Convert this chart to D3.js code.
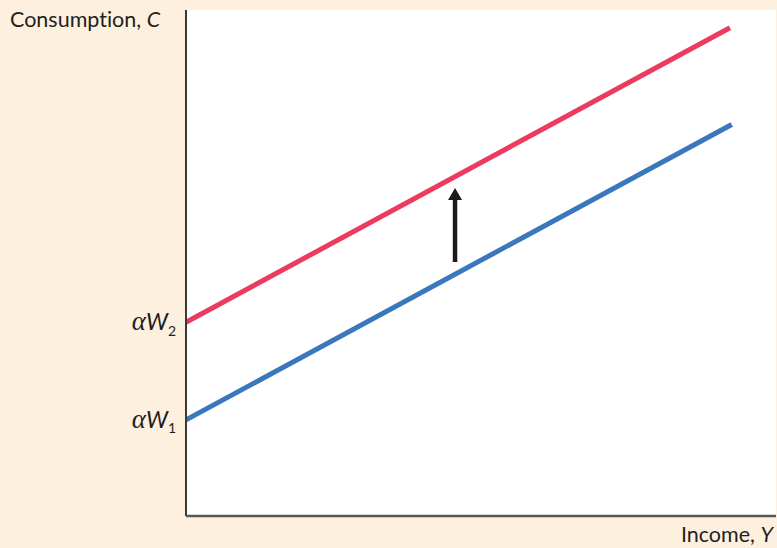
<!DOCTYPE html>
<html>
<head>
<meta charset="utf-8">
<title>Consumption and wealth</title>
<script src="https://d3js.org/d3.v7.min.js"></script>
<style>
  body { margin: 0; background: #fdf0df; }
  svg text { font-family: "Lato", "Open Sans", sans-serif; fill: #231f20; font-variant-ligatures: none; }
</style>
</head>
<body>
<div id="chart"></div>
<script>
// consumption function C = alpha*W + beta*Y, two wealth levels
const intercepts = [19.0, 38.3];          // alpha*W1, alpha*W2
const interceptLabels = ["1", "2"];
const slope = 0.631;
const incomeEnd = [92.5, 92.2];           // where each line stops
const lineColors = ["#3a77bd", "#ec3b5e"];
const arrowX = 45.6, arrowFrom = 50.2, arrowTo = 64.8;

const W = 777, H = 548;
const margin = {top: 10, right: 1, bottom: 32, left: 186};
const width = W - margin.left - margin.right;
const height = H - margin.top - margin.bottom;

const svg = d3.select("#chart").append("svg")
    .attr("width", W).attr("height", H);

svg.append("rect").attr("width", W).attr("height", H).attr("fill", "#fdf0df");

const g = svg.append("g").attr("transform", `translate(${margin.left},${margin.top})`);

g.append("rect").attr("width", width).attr("height", height).attr("fill", "#fff");

const x = d3.scaleLinear().domain([0, 100]).range([0, width]);
const y = d3.scaleLinear().domain([0, 100]).range([height, 0]);

// lines
const line = d3.line().x(d => x(d[0])).y(d => y(d[1]));
intercepts.forEach((a, i) => {
  g.append("path")
    .datum([[0, a], [incomeEnd[i], a + slope * incomeEnd[i]]])
    .attr("d", line)
    .attr("fill", "none")
    .attr("stroke", lineColors[i])
    .attr("stroke-width", 5);
});

// arrow
const ax = x(arrowX), tip = y(arrowTo);
g.append("line")
  .attr("x1", ax).attr("x2", ax)
  .attr("y1", y(arrowFrom)).attr("y2", tip + 10)
  .attr("stroke", "#1c1a1a").attr("stroke-width", 4.5);
g.append("path")
  .attr("d", `M${ax},${tip} L${ax + 7},${tip + 12} L${ax - 7},${tip + 12} Z`)
  .attr("fill", "#1c1a1a");

// axes
const yAxis = g.append("g")
  .call(d3.axisLeft(y).tickValues(intercepts).tickSize(0).tickFormat(""));
yAxis.select(".domain").attr("stroke", "#3b3838").attr("stroke-width", 2).attr("d", `M0,0V${height}`);
yAxis.selectAll(".tick").each(function(d, i) {
  const t = d3.select(this).append("text")
    .attr("x", -10).attr("dy", "0.33em")
    .attr("text-anchor", "end")
    .style("font-size", "23px").style("font-style", "italic");
  t.append("tspan").style("font-family", "'Liberation Serif', serif").style("font-size", "27px").text("α");
  t.append("tspan").text("W");
  t.append("tspan").attr("dy", "0.38em").style("font-size", "14px").style("font-style", "normal").text(interceptLabels[i]);
});

const xAxis = g.append("g").attr("transform", `translate(0,${height})`)
  .call(d3.axisBottom(x).tickValues([]).tickSize(0));
xAxis.select(".domain").attr("stroke", "#5a5656").attr("stroke-width", 2.5).attr("d", `M0,0H${width}`);

// axis titles
const ct = svg.append("text").attr("x", 10).attr("y", 27).style("font-size", "21.5px");
ct.append("tspan").text("Consumption, ");
ct.append("tspan").style("font-style", "italic").text("C");

const it = svg.append("text").attr("x", 773).attr("y", 542).attr("text-anchor", "end").style("font-size", "21.5px");
it.append("tspan").text("Income, ");
it.append("tspan").style("font-style", "italic").text("Y");
</script>
</body>
</html>
